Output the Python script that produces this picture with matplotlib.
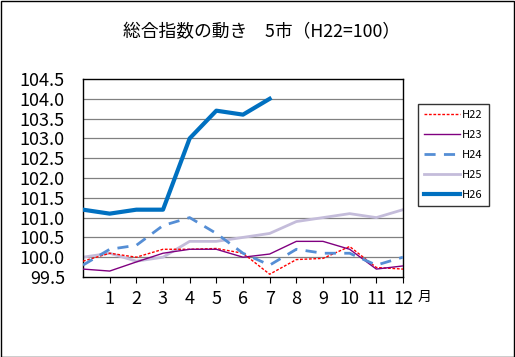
import matplotlib
matplotlib.use("Agg")
import matplotlib.pyplot as plt
from matplotlib.patches import Rectangle

plt.rcParams['font.family'] = ['Noto Sans CJK JP', 'DejaVu Sans']

months = list(range(0, 13))
tick_months = list(range(1, 13))
h22 = [99.9, 100.1, 100.0, 100.2, 100.2, 100.22, 100.1, 99.57, 99.94, 99.97, 100.27, 99.74, 99.7]
h23 = [99.7, 99.65, 99.88, 100.1, 100.2, 100.2, 100.0, 100.08, 100.4, 100.4, 100.2, 99.7, 99.78]
h24 = [99.8, 100.2, 100.3, 100.8, 101.0, 100.6, 100.1, 99.8, 100.2, 100.1, 100.1, 99.8, 100.0]
h25 = [100.0, 100.1, 99.9, 100.0, 100.4, 100.4, 100.5, 100.6, 100.9, 101.0, 101.1, 101.0, 101.2]
h26_m = list(range(0, 8))
h26 = [101.2, 101.1, 101.2, 101.2, 103.0, 103.7, 103.6, 104.0]
yticks = [99.5, 100.0, 100.5, 101.0, 101.5, 102.0, 102.5, 103.0, 103.5, 104.0, 104.5]
title = "総合指数の動き　5市（H22=100）"

fig = plt.figure(figsize=(5.15, 3.57), dpi=100)
fig.patch.set_facecolor('white')
fig.add_artist(Rectangle((0.001, 0.001), 0.997, 0.996, transform=fig.transFigure,
                         fill=False, edgecolor='black', linewidth=1.0))

ax = fig.add_axes([83/515, 1-277/357, 320/515, 198/357])
ax.set_xlim(0, 12)
ax.set_ylim(99.5, 104.5)
ax.set_yticks(yticks)
ax.set_yticklabels([f"{v:.1f}" for v in yticks], fontsize=13)
ax.set_xticks(tick_months)
ax.set_xticklabels([str(m) for m in tick_months], fontsize=13)
ax.tick_params(axis='y', length=0, pad=13)
ax.tick_params(axis='x', length=4, direction='out', pad=5)
for y in yticks[1:-1]:
    ax.axhline(y, color='#808080', linewidth=0.9, zorder=1)
for s in ax.spines.values():
    s.set_color('black')
    s.set_linewidth(1.0)

ax.plot(months, h22, color='#FF0000', linewidth=1.0, linestyle=(0, (2, 1.2)), label='H22', zorder=3)
ax.plot(months, h23, color='#800080', linewidth=1.0, label='H23', zorder=3)
ax.plot(months, h24, color='#558ED5', linewidth=2.0, linestyle=(0, (4, 3)), label='H24', zorder=3)
ax.plot(months, h25, color='#C4BCDA', linewidth=2.0, label='H25', zorder=2)
ax.plot(h26_m, h26, color='#0070C0', linewidth=3.0, label='H26', zorder=4)

fig.text(262/515, 1-32/357, title, ha='center', va='center', fontsize=12.8)
fig.text(425/515, 1-297/357, "月", ha='center', va='center', fontsize=10)

leg = fig.legend(loc='upper left', bbox_to_anchor=(418/515, 1-104/357), fontsize=8,
                 frameon=True, fancybox=False, edgecolor='black', handlelength=3.2,
                 handletextpad=0.2, labelspacing=0.9, borderpad=0.55, borderaxespad=0)
leg.get_frame().set_linewidth(1.0)

fig.savefig("out.png", dpi=100)
